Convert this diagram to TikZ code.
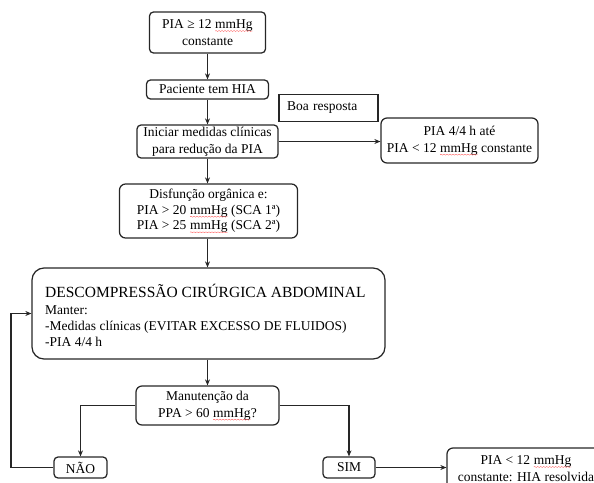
\documentclass[tikz,border=0pt]{standalone}
\usepackage{fontspec}
\setmainfont{Liberation Serif}
\usetikzlibrary{arrows.meta,decorations.pathmorphing,calc}
\newcommand\mmhg{\tikz[baseline=(mw.base),x=1cm,y=1cm]{\node[inner sep=0pt,outer sep=0pt,draw=none,minimum width=0pt,minimum height=0pt,rounded corners=0pt,text width={},align=left] (mw) {mmHg};\draw[red!75,line width=0.3pt,rounded corners=0pt,decorate,decoration={snake,amplitude=0.45pt,segment length=3pt}] ([yshift=-2.6pt]mw.base west) -- ([yshift=-2.6pt]mw.base east);}}
\begin{document}
\begin{tikzpicture}[x=1pt,y=-1pt,
  box/.style={draw=black!85,line width=1.25pt,rounded corners=4pt,align=center,inner sep=0pt,font=\fontsize{13.5}{17}\selectfont},
  bigbox/.style={box,rounded corners=12pt},
  midbox/.style={box,rounded corners=6pt},
  sqbox/.style={draw=black!85,line width=1.25pt,align=left,inner xsep=8pt,inner ysep=0pt,font=\fontsize{13.5}{17}\selectfont},
  txt/.style={anchor=base west,inner sep=0pt,font=\fontsize{13.5}{16}\selectfont},
  conn/.style={line width=1.25pt,draw=black!85,-{Stealth[length=6pt,width=5pt]}},
  plain/.style={line width=1.25pt,draw=black!85}]
\useasboundingbox (0,0) rectangle (594,482);
\clip (0,0) rectangle (594,482);

\node[box,minimum width=116pt,minimum height=41pt] (b1) at (207.5,32.5) {PIA ≥ 12 \mmhg\\constante};
\node[box,minimum width=122pt,minimum height=19pt] (b2) at (207.5,89.5) {Paciente tem HIA};
\node[sqbox,text width=83pt,minimum height=27pt] (boa) at (328.5,108) {Boa resposta};
\node[box,minimum width=141pt,minimum height=33pt] (b3) at (207.5,141.5) {Iniciar medidas clínicas\\para redução da PIA};
\node[midbox,minimum width=157pt,minimum height=45pt] (b4) at (459.5,140.5) {PIA 4/4 h até\\PIA < 12 \mmhg{} constante};
\node[midbox,minimum width=178pt,minimum height=54pt,font=\fontsize{13.5}{15.5}\selectfont] (b5) at (208.5,211) {Disfunção orgânica e:\\PIA > 20 \mmhg{} (SCA 1ª)\\PIA > 25 \mmhg{} (SCA 2ª)};
\node[bigbox,minimum width=353pt,minimum height=91pt] (b6) at (208.5,313.5) {};
\node[txt,font=\fontsize{15.5}{18}\selectfont] (t1) at (45,297) {DESCOMPRESSÃO CIRÚRGICA ABDOMINAL};
\node[txt] (t2) at (45,314) {Manter:};
\node[txt] (t3) at (45,330) {-Medidas clínicas (EVITAR EXCESSO DE FLUIDOS)};
\node[txt] (t4) at (45,346) {-PIA 4/4 h};
\node[midbox,minimum width=143pt,minimum height=39pt] (b7) at (207.5,405.5) {Manutenção da\\PPA > 60 \mmhg?};
\node[box,minimum width=53pt,minimum height=21pt] (nao) at (80.5,467.5) {NÃO};
\node[box,minimum width=52pt,minimum height=21pt] (sim) at (349,467.5) {SIM};
\node[midbox,minimum width=158pt,minimum height=41pt] (b8) at (526,468.5) {PIA < 12 \mmhg\\constante: HIA resolvida};

\draw[conn] (b1.south) -- (b1.south |- b2.north);
\draw[conn] (b2.south) -- (b2.south |- b3.north);
\draw[conn] (b3.east) -- (b3.east -| b4.west);
\draw[conn] (b3.south) -- (b3.south |- b5.north);
\draw[conn] (b3.south |- b5.south) -- (b3.south |- b6.north);
\draw[conn] (b3.south |- b6.south) -- (b3.south |- b7.north);
\draw[conn] (b7.west) -| (nao.north);
\draw[conn] (b7.east) -| (sim.north);
\coordinate (fb) at (11,467.5);
\draw[conn] (nao.west) -- (fb) |- (b6.west);
\draw[conn] (sim.east) -- (sim.east -| b8.west);
\end{tikzpicture}
\end{document}
